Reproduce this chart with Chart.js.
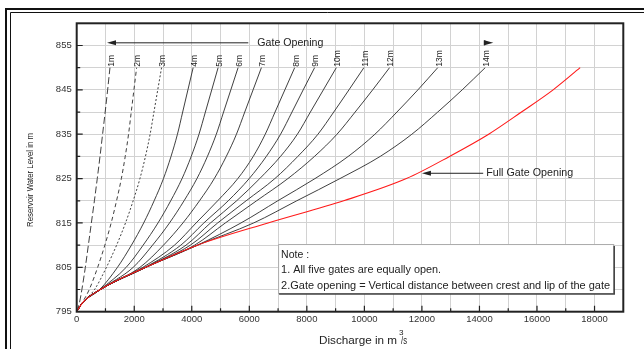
<!DOCTYPE html>
<html>
<head>
<meta charset="utf-8">
<script src="https://cdn.jsdelivr.net/npm/chart.js@4.4.1/dist/chart.umd.min.js"></script>
<style>
  html, body { margin: 0; padding: 0; background: #fff; }
  #wrap { width: 644px; height: 349px; position: relative; }
</style>
</head>
<body>
<div id="wrap"><canvas id="rating"></canvas></div>
<script>
// reservoir levels (m) shared by every curve
const levels = [795, 797, 800, 805, 810, 815, 820, 825, 830, 835, 840, 845, 850];

// discharge (m3/s) at each level
const fullGate = [0, 200, 820, 2400, 4200, 6650, 9280, 11460, 12960, 14320, 15460, 16560, 17500];
const gate1m  = [0, 95, 180, 300, 405, 510, 615, 715, 810, 900, 990, 1075, 1156];
const gate2m  = [0, 190, 437, 729, 979, 1198, 1385, 1552, 1687, 1802, 1896, 1989, 2083];
const gate3m  = [0, 200, 620, 1033, 1387, 1696, 1962, 2198, 2390, 2552, 2685, 2817, 2950];
const gate4m  = [0, 200, 800, 1417, 1903, 2328, 2692, 3016, 3279, 3502, 3684, 3866, 4048];
const gate5m  = [0, 200, 815, 1720, 2310, 2826, 3268, 3662, 3981, 4251, 4473, 4694, 4915];
const gate6m  = [0, 200, 820, 1964, 2637, 3226, 3731, 4179, 4544, 4853, 5105, 5358, 5610];
const gate7m  = [0, 200, 820, 2200, 3017, 3692, 4269, 4783, 5200, 5553, 5842, 6131, 6420];
const gate8m  = [0, 200, 820, 2300, 3400, 4150, 4900, 5600, 6137, 6554, 6895, 7236, 7577];
const gate9m  = [0, 200, 820, 2380, 3620, 4420, 5268, 5996, 6591, 7087, 7484, 7873, 8270];
const gate10m = [0, 200, 820, 2400, 3800, 4650, 5560, 6363, 7085, 7671, 8123, 8574, 9025];
const gate11m = [0, 200, 820, 2400, 3950, 4900, 5890, 6888, 7687, 8386, 8935, 9464, 9983];
const gate12m = [0, 200, 820, 2400, 4100, 5166, 6253, 7341, 8265, 9048, 9679, 10288, 10875];
const gate13m = [0, 200, 820, 2400, 4200, 5710, 6990, 8283, 9438, 10366, 11132, 11860, 12550];
const gate14m = [0, 200, 820, 2400, 4200, 6150, 7650, 9150, 10550, 11650, 12550, 13400, 14200];

const gateNames = ['1m', '2m', '3m', '4m', '5m', '6m', '7m', '8m', '9m', '10m', '11m', '12m', '13m', '14m'];
const yTickLabels = [795, 805, 815, 825, 835, 845, 855];
const xTickLabels = [0, 2000, 4000, 6000, 8000, 10000, 12000, 14000, 16000, 18000];

const gates = [gate1m, gate2m, gate3m, gate4m, gate5m, gate6m, gate7m,
               gate8m, gate9m, gate10m, gate11m, gate12m, gate13m, gate14m];
const gateDash = [[7, 3], [4, 3], [2, 2], [], [], [], [], [], [], [], [], [], [], []];

const FONT = '"Liberation Sans", Arial, sans-serif';

function toPoints(q) {
    return q.map((v, i) => ({ x: v, y: levels[i] }));
}

// draw text squeezed/stretched to a given width
function fitText(ctx, text, x, y, width, size) {
    ctx.save();
    ctx.font = size + 'px ' + FONT;
    const w = ctx.measureText(text).width;
    ctx.translate(x, y);
    ctx.scale(width / w, 1);
    ctx.textAlign = 'left';
    ctx.textBaseline = 'middle';
    ctx.fillText(text, 0, 0);
    ctx.restore();
}

function arrowHead(ctx, tipX, tipY, dir) {
    ctx.beginPath();
    ctx.moveTo(tipX, tipY);
    ctx.lineTo(tipX - dir * 9, tipY - 2.5);
    ctx.lineTo(tipX - dir * 9, tipY + 2.5);
    ctx.closePath();
    ctx.fill();
}

const datasets = [{
    data: toPoints(fullGate),
    borderColor: '#ff1a1a',
    borderWidth: 1.1
}];
gates.forEach((g, i) => {
    datasets.push({
        data: toPoints(g),
        borderColor: '#2a2a2a',
        borderWidth: 0.9,
        borderDash: gateDash[i]
    });
});

const pageDecor = {
    id: 'pageDecor',
    beforeDraw(chart) {
        const ctx = chart.ctx;
        ctx.save();
        ctx.fillStyle = '#fff';
        ctx.fillRect(0, 0, chart.width, chart.height);
        ctx.strokeStyle = '#111';
        ctx.lineWidth = 2;
        ctx.beginPath();
        ctx.moveTo(6, chart.height); ctx.lineTo(6, 9); ctx.lineTo(chart.width, 9);
        ctx.stroke();
        ctx.lineWidth = 1;
        ctx.beginPath();
        ctx.moveTo(10.5, chart.height); ctx.lineTo(10.5, 12.5); ctx.lineTo(chart.width, 12.5);
        ctx.stroke();
        ctx.restore();
    },
    afterDatasetsDraw(chart) {
        const ctx = chart.ctx;
        const a = chart.chartArea;
        const x = chart.scales.x, y = chart.scales.y;
        ctx.save();

        // plot frame
        ctx.strokeStyle = '#222';
        ctx.lineWidth = 2;
        ctx.strokeRect(a.left, a.top, a.right - a.left, a.bottom - a.top);

        // inward tick marks
        ctx.lineWidth = 1.2;
        ctx.beginPath();
        for (let v = 800; v < 860; v += 5) {
            const py = y.getPixelForValue(v);
            const len = yTickLabels.includes(v) ? 6 : 3.5;
            ctx.moveTo(a.left, py); ctx.lineTo(a.left + len, py);
        }
        for (let v = 1000; v < 19000; v += 1000) {
            const px = x.getPixelForValue(v);
            const len = xTickLabels.includes(v) ? 6 : 3.5;
            ctx.moveTo(px, a.bottom); ctx.lineTo(px, a.bottom - len);
        }
        ctx.stroke();

        // tick labels
        ctx.fillStyle = '#333';
        ctx.font = '9.5px ' + FONT;
        ctx.textAlign = 'right';
        ctx.textBaseline = 'middle';
        yTickLabels.forEach(v => ctx.fillText(String(v), a.left - 5, y.getPixelForValue(v)));
        ctx.textAlign = 'center';
        ctx.textBaseline = 'top';
        xTickLabels.forEach(v => ctx.fillText(String(v), x.getPixelForValue(v), a.bottom + 3));

        // axis titles
        ctx.fillStyle = '#222';
        ctx.save();
        ctx.translate(31, 227);
        ctx.rotate(-Math.PI / 2);
        fitText(ctx, 'Reservoir Water Level in m', 0, 0, 94, 9);
        ctx.restore();
        fitText(ctx, 'Discharge in m', 319, 341, 78, 10);
        fitText(ctx, '3', 399, 333, 4.5, 7.5);
        fitText(ctx, '/s', 401, 341, 6, 10);

        // gate opening labels at top of each curve
        ctx.font = '8.5px ' + FONT;
        ctx.textAlign = 'left';
        ctx.textBaseline = 'middle';
        gates.forEach((g, i) => {
            const px = x.getPixelForValue(g[g.length - 1]) + 1.5;
            const py = y.getPixelForValue(levels[levels.length - 1]) - 1;
            ctx.save();
            ctx.translate(px, py);
            ctx.rotate(-Math.PI / 2);
            ctx.fillText(gateNames[i], 0, 0);
            ctx.restore();
        });

        // "Gate Opening" arrow
        ctx.strokeStyle = '#222';
        ctx.lineWidth = 1;
        const gy = y.getPixelForValue(855.6);
        ctx.beginPath();
        ctx.moveTo(x.getPixelForValue(1200), gy);
        ctx.lineTo(x.getPixelForValue(5965), gy);
        ctx.stroke();
        arrowHead(ctx, x.getPixelForValue(1054), gy, -1);
        arrowHead(ctx, x.getPixelForValue(14480), gy, 1);
        ctx.fillRect(x.getPixelForValue(14150), gy - 2.5, 1.5, 5);
        fitText(ctx, 'Gate Opening', x.getPixelForValue(6280), gy, 66, 10.5);

        // "Full Gate Opening" arrow
        const fy = y.getPixelForValue(826.2);
        ctx.beginPath();
        ctx.moveTo(x.getPixelForValue(12200), fy);
        ctx.lineTo(x.getPixelForValue(14130), fy);
        ctx.stroke();
        arrowHead(ctx, x.getPixelForValue(12000), fy, -1);
        fitText(ctx, 'Full Gate Opening', x.getPixelForValue(14235), fy, 87, 10.5);

        // note box
        const bx0 = x.getPixelForValue(7000), bx1 = x.getPixelForValue(18650);
        const by0 = y.getPixelForValue(810.25), by1 = y.getPixelForValue(799.2);
        ctx.fillStyle = '#fff';
        ctx.fillRect(bx0, by0, bx1 - bx0, by1 - by0);
        ctx.strokeStyle = '#aaa';
        ctx.lineWidth = 1;
        ctx.strokeRect(bx0 + 0.5, by0 + 0.5, bx1 - bx0, by1 - by0);
        ctx.strokeStyle = '#444';
        ctx.lineWidth = 1.5;
        ctx.beginPath();
        ctx.moveTo(bx0 + 1, by1 + 1); ctx.lineTo(bx1 + 1, by1 + 1); ctx.lineTo(bx1 + 1, by0 + 2);
        ctx.stroke();
        ctx.fillStyle = '#222';
        const tx = x.getPixelForValue(7105);
        fitText(ctx, 'Note :', tx, y.getPixelForValue(807.77), 28, 10);
        fitText(ctx, '1. All five gates are equally open.', tx, y.getPixelForValue(804.4), 160, 10);
        fitText(ctx, '2.Gate opening = Vertical distance between crest and lip of the gate', tx, y.getPixelForValue(800.8), 329, 10);

        ctx.restore();
    }
};

new Chart(document.getElementById('rating').getContext('2d'), {
    type: 'scatter',
    data: { datasets: datasets },
    options: {
        responsive: true,
        maintainAspectRatio: false,
        animation: false,
        showLine: true,
        layout: {
            padding: { left: 76.7, right: 20.7, top: 23.3, bottom: 37.3 }
        },
        elements: {
            point: { radius: 0 },
            line: { cubicInterpolationMode: 'monotone' }
        },
        plugins: {
            legend: { display: false },
            tooltip: { enabled: false }
        },
        scales: {
            x: {
                type: 'linear',
                min: 0,
                max: 19000,
                ticks: { stepSize: 1000, display: false },
                grid: { color: '#d2d2d2', drawTicks: false },
                border: { display: false }
            },
            y: {
                type: 'linear',
                min: 795,
                max: 860,
                ticks: { stepSize: 5, display: false },
                grid: { color: '#d2d2d2', drawTicks: false },
                border: { display: false }
            }
        }
    },
    plugins: [pageDecor]
});
</script>
</body>
</html>
